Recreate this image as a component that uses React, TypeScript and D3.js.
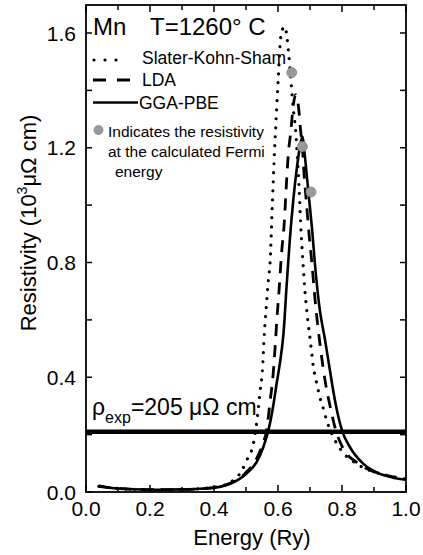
import React from "react";
import * as d3 from "d3";

// ---- data ----
const sksEnergy = [0.04, 0.10, 0.20, 0.30, 0.40, 0.45, 0.487, 0.502, 0.523, 0.533, 0.544, 0.552, 0.556, 0.5625, 0.570, 0.575, 0.582, 0.589, 0.596, 0.601, 0.608, 0.615, 0.622, 0.628, 0.634, 0.641, 0.648, 0.655, 0.661, 0.666, 0.671, 0.679, 0.684, 0.692, 0.702, 0.71, 0.72, 0.731, 0.742, 0.752, 0.768, 0.794, 0.846, 0.8875, 0.94, 1.0];
const sksRes = [0.02, 0.012, 0.008, 0.009, 0.016, 0.033, 0.075, 0.11, 0.168, 0.238, 0.35, 0.436, 0.529, 0.633, 0.738, 0.796, 0.994, 1.186, 1.343, 1.448, 1.58, 1.615, 1.622, 1.585, 1.52, 1.425, 1.332, 1.262, 1.157, 1.06, 0.93, 0.785, 0.703, 0.61, 0.517, 0.44, 0.383, 0.33, 0.29, 0.25, 0.203, 0.151, 0.098, 0.075, 0.058, 0.045];

const ldaEnergy = [0.04, 0.10, 0.20, 0.30, 0.40, 0.45, 0.48, 0.50, 0.53, 0.55, 0.565, 0.575, 0.585, 0.591, 0.596, 0.604, 0.611, 0.619, 0.627, 0.632, 0.640, 0.647, 0.655, 0.664, 0.671, 0.676, 0.682, 0.689, 0.697, 0.705, 0.716, 0.731, 0.747, 0.768, 0.778, 0.80, 0.85, 0.90, 0.95, 1.0];
const ldaRes = [0.02, 0.012, 0.008, 0.009, 0.015, 0.03, 0.048, 0.068, 0.11, 0.16, 0.22, 0.313, 0.413, 0.505, 0.593, 0.714, 0.83, 0.93, 1.087, 1.175, 1.256, 1.34, 1.385, 1.343, 1.256, 1.204, 1.099, 1.006, 0.9, 0.808, 0.668, 0.517, 0.389, 0.273, 0.225, 0.16, 0.10, 0.07, 0.055, 0.045];

const ggaEnergy = [0.04, 0.10, 0.20, 0.30, 0.40, 0.45, 0.48, 0.50, 0.533, 0.554, 0.570, 0.585, 0.596, 0.606, 0.617, 0.627, 0.637, 0.648, 0.659, 0.668, 0.676, 0.684, 0.692, 0.700, 0.707, 0.715, 0.73, 0.747, 0.76, 0.773, 0.787, 0.80, 0.825, 0.867, 0.919, 0.96, 1.0];
const ggaRes = [0.022, 0.012, 0.008, 0.009, 0.015, 0.029, 0.046, 0.063, 0.104, 0.156, 0.215, 0.30, 0.38, 0.45, 0.55, 0.72, 0.88, 1.02, 1.13, 1.20, 1.238, 1.17, 1.08, 0.99, 0.91, 0.80, 0.64, 0.53, 0.44, 0.35, 0.27, 0.215, 0.156, 0.098, 0.063, 0.05, 0.043];

const fermiEnergy = [0.643, 0.676, 0.703];
const fermiRes = [1.462, 1.204, 1.046];

const rhoExp = 0.21;

const xTicks = [0.0, 0.2, 0.4, 0.6, 0.8, 1.0];
const xMinorTicks = [0.1, 0.3, 0.5, 0.7, 0.9];
const yTicks = [0.0, 0.2, 0.4, 0.6, 0.8, 1.0, 1.2, 1.4, 1.6];
const yLabelTicks = [0.0, 0.4, 0.8, 1.2, 1.6];

const legendLabels = ["Slater-Kohn-Sham", "LDA", "GGA-PBE"];

const FONT = "'Liberation Sans', Arial, Helvetica, sans-serif";

export default function App() {
  const left = 86, right = 406, top = 5, bottom = 492;
  const x = d3.scaleLinear().domain([0, 1]).range([left, right]);
  const y = d3.scaleLinear().domain([0, 1.6]).range([bottom, 33]);

  const mk = (es: number[], rs: number[]) =>
    d3.line<number>().x((_, i) => x(es[i])).y((_, i) => y(rs[i])).curve(d3.curveMonotoneX)(es) || "";

  const sksPath = mk(sksEnergy, sksRes);
  const ldaPath = mk(ldaEnergy, ldaRes);
  const ggaPath = mk(ggaEnergy, ggaRes);

  const fmt = d3.format(".1f");

  return (
    <svg width={423} height={555} style={{ position: "absolute", left: 0, top: 0, background: "#fff" }} fontFamily={FONT}>
      <rect x={0} y={0} width={423} height={555} fill="#fff" />
      <defs>
        <clipPath id="plot">
          <rect x={left} y={top} width={right - left} height={bottom - top} />
        </clipPath>
      </defs>

      {/* curves */}
      <g clipPath="url(#plot)" fill="none" stroke="#000">
        <path d={sksPath} strokeWidth={3.2} strokeDasharray="0.01 9" strokeLinecap="round" />
        <path d={ldaPath} strokeWidth={2.8} strokeDasharray="12 9" />
        <path d={ggaPath} strokeWidth={2.6} />
        <line x1={left} x2={right} y1={y(rhoExp)} y2={y(rhoExp)} strokeWidth={4.5} />
      </g>

      {/* Fermi points */}
      {fermiEnergy.map((e, i) => (
        <circle key={i} cx={x(e)} cy={y(fermiRes[i])} r={5} fill="#999" stroke="#888" strokeWidth={0.8} />
      ))}

      {/* frame */}
      <rect x={left} y={top} width={right - left} height={bottom - top} fill="none" stroke="#000" strokeWidth={1.8} />

      {/* x ticks */}
      {xTicks.map((t) => (
        <g key={"xt" + t}>
          <line x1={x(t)} x2={x(t)} y1={bottom} y2={bottom - 7} stroke="#000" strokeWidth={1.5} />
          <line x1={x(t)} x2={x(t)} y1={top} y2={top + 7} stroke="#000" strokeWidth={1.5} />
          <text x={x(t)} y={516} textAnchor="middle" fontSize={21}>{fmt(t)}</text>
        </g>
      ))}
      {xMinorTicks.map((t) => (
        <g key={"xm" + t}>
          <line x1={x(t)} x2={x(t)} y1={bottom} y2={bottom - 5} stroke="#000" strokeWidth={1.5} />
          <line x1={x(t)} x2={x(t)} y1={top} y2={top + 5} stroke="#000" strokeWidth={1.5} />
        </g>
      ))}

      {/* y ticks */}
      {yTicks.map((t) => (
        <g key={"yt" + t}>
          <line x1={left} x2={left + 6} y1={y(t)} y2={y(t)} stroke="#000" strokeWidth={1.5} />
          <line x1={right} x2={right - 6} y1={y(t)} y2={y(t)} stroke="#000" strokeWidth={1.5} />
        </g>
      ))}
      {yLabelTicks.map((t) => (
        <text key={"yl" + t} x={76} y={y(t) + 7.5} textAnchor="end" fontSize={21}>{fmt(t)}</text>
      ))}

      {/* axis titles */}
      <text x={252} y={545} textAnchor="middle" fontSize={22}>Energy (Ry)</text>
      <text transform="translate(36,223) rotate(-90)" textAnchor="middle" fontSize={22}>
        Resistivity (10<tspan dy={-9} fontSize={14}>3</tspan><tspan dy={9}>μΩ cm)</tspan>
      </text>

      {/* title */}
      <text x={93} y={35} fontSize={24}>Mn</text>
      <text x={150} y={35} fontSize={24}>T=1260° C</text>

      {/* legend */}
      <g fill="none" stroke="#000">
        <line x1={94} x2={127} y1={60} y2={60} strokeWidth={3.2} strokeDasharray="0.01 11" strokeLinecap="round" />
        <line x1={93} x2={131} y1={80} y2={80} strokeWidth={2.8} strokeDasharray="13 11" />
        <line x1={93} x2={138} y1={102.5} y2={102.5} strokeWidth={2.6} />
      </g>
      <text x={142} y={63.5} fontSize={17.5}>{legendLabels[0]}</text>
      <text x={142} y={85.5} fontSize={17.5}>{legendLabels[1]}</text>
      <text x={139} y={108.5} fontSize={17.5}>{legendLabels[2]}</text>

      <circle cx={98.5} cy={130} r={4.5} fill="#999" stroke="#888" strokeWidth={0.8} />
      <text x={108} y={137} fontSize={15.5}>Indicates the resistivity</text>
      <text x={108} y={157} fontSize={15.5}>at the calculated Fermi</text>
      <text x={115} y={177} fontSize={15.5}>energy</text>

      {/* rho_exp label */}
      <text x={92} y={415} fontSize={23}>
        ρ<tspan dy={8} fontSize={16}>exp</tspan><tspan dy={-8}>=205 μΩ cm</tspan>
      </text>
    </svg>
  );
}
